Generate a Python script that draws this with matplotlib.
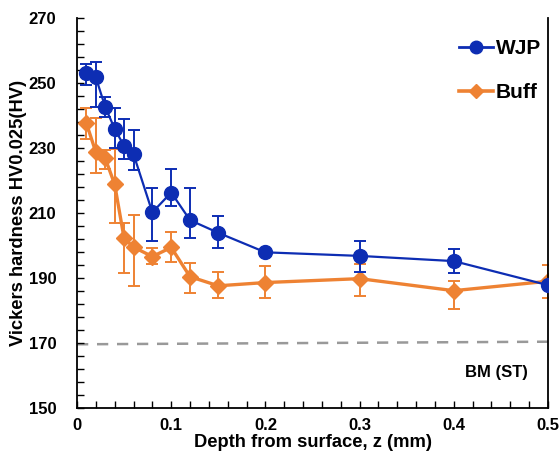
import matplotlib
matplotlib.use('Agg')
import matplotlib.pyplot as plt
from matplotlib.lines import Line2D
import numpy as np

plt.rcParams['font.family'] = ['Liberation Sans', 'DejaVu Sans']
plt.rcParams['font.weight'] = 'bold'

########## data ##########
depth = [0.01, 0.02, 0.03, 0.04, 0.05, 0.06, 0.08, 0.10, 0.12, 0.15, 0.20, 0.30, 0.40, 0.50]

wjp = [253.0, 251.7, 242.6, 235.9, 230.6, 228.1, 210.2, 216.3, 207.8, 203.9, 197.9, 196.8, 195.2, 187.8]
wjp_lo = [3.6, 9.2, 3.0, 6.0, 3.9, 5.0, 8.7, 4.2, 5.4, 4.8, 0.8, 4.9, 3.7, 0.8]
wjp_hi = [2.9, 4.8, 3.0, 6.5, 8.3, 7.3, 7.4, 7.1, 9.8, 5.2, 0.8, 4.6, 3.7, 0.8]

buff = [237.6, 228.7, 226.8, 218.8, 202.2, 199.5, 196.6, 199.4, 190.4, 187.6, 188.6, 189.8, 186.1, 189.0]
buff_lo = [4.9, 6.3, 3.3, 11.8, 10.6, 12.0, 2.4, 4.5, 4.9, 3.8, 4.6, 5.2, 5.7, 5.0]
buff_hi = [4.8, 10.5, 2.5, 11.0, 4.7, 9.9, 2.5, 4.8, 4.3, 4.2, 5.2, 4.5, 3.1, 5.1]

bm_x = [0.0, 0.5]
bm_y = [169.6, 170.4]

xticks = [0, 0.1, 0.2, 0.3, 0.4, 0.5]
xticklabels = ['0', '0.1', '0.2', '0.3', '0.4', '0.5']
yticks = [150, 170, 190, 210, 230, 250, 270]

blue = '#0d2db3'
orange = '#ee8233'

fig = plt.figure(figsize=(5.6, 4.63), dpi=100)
ax = fig.add_axes([77/560, 1-408/463, (548-77)/560, (408-18)/463])

ax.plot(bm_x, bm_y, '--', color='#999999', lw=1.8, dashes=(4.5, 3.5), zorder=1)

ax.errorbar(depth, buff, yerr=[buff_lo, buff_hi], color=orange, marker='D', ms=8.5,
            lw=2.4, elinewidth=1.4, capsize=4, capthick=1.4, zorder=2)
ax.errorbar(depth, wjp, yerr=[wjp_lo, wjp_hi], color=blue, marker='o', ms=10,
            lw=1.6, elinewidth=1.4, capsize=4, capthick=1.4, zorder=3)

ax.text(0.445, 160.8, 'BM (ST)', fontsize=12, fontweight='bold', ha='center', va='center')

ax.set_xlim(0, 0.5)
ax.set_ylim(150, 270)
ax.set_xticks(xticks)
ax.set_xticklabels(xticklabels)
ax.set_xticks(np.arange(0, 0.501, 0.02), minor=True)
ax.set_yticks(yticks)
ax.set_yticks(np.arange(150, 271, 4), minor=True)
ax.tick_params(axis='both', which='both', direction='in', labelsize=12)
ax.tick_params(which='both', length=5, width=1)
ax.tick_params(axis='y', pad=15)
ax.tick_params(axis='x', pad=7)
ax.spines['top'].set_visible(False)
for s in ['left', 'bottom', 'right']:
    ax.spines[s].set_linewidth(1.3)

ax.set_xlabel('Depth from surface, z (mm)', fontsize=13.2, fontweight='bold', labelpad=1)
ax.set_ylabel('Vickers hardness HV0.025(HV)', fontsize=13.2, fontweight='bold', labelpad=1)

handles = [Line2D([], [], color=blue, marker='o', ms=9, lw=2),
           Line2D([], [], color=orange, marker='D', ms=7, lw=2.6)]
ax.legend(handles, ['WJP', 'Buff'], loc='upper right', bbox_to_anchor=(0.985, 0.945),
          frameon=False, fontsize=15, labelspacing=1.2, handlelength=1.6, handletextpad=0.15,
          borderpad=0, borderaxespad=0)

plt.savefig('out.png', dpi=100)
